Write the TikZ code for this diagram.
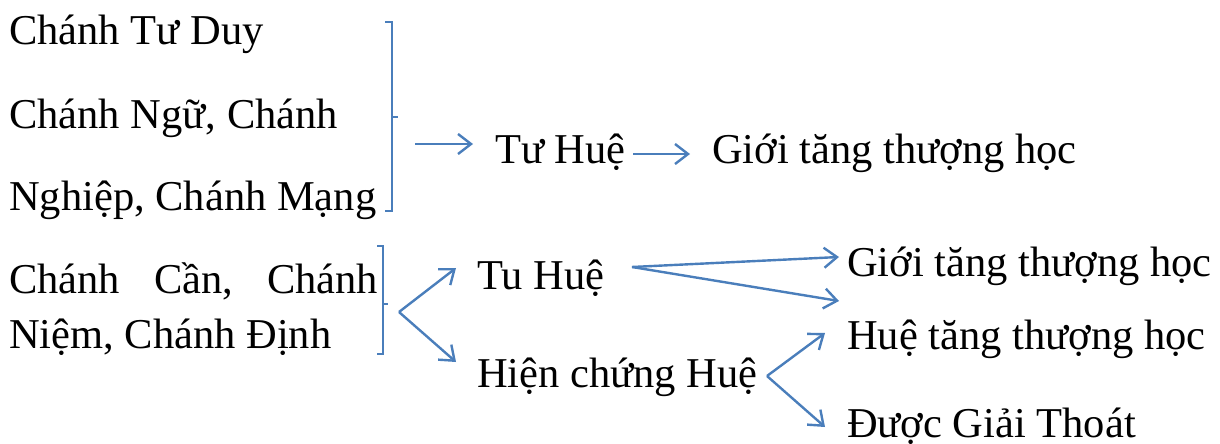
\documentclass[tikz,border=0pt]{standalone}
\usepackage{fontspec}
\setmainfont{Liberation Serif}
\usetikzlibrary{arrows.meta}
\definecolor{wordblue}{HTML}{4A7EBB}
\tikzset{
  txt/.style={anchor=base west, inner sep=0pt, font=\fontsize{42.5}{50}\selectfont},
  brk/.style={draw=wordblue, line width=1.6pt},
  arr/.style={draw=wordblue, line width=2.4pt, -{Straight Barb[length=13pt,width=20pt,line width=2.4pt]}},
}
\begin{document}
\begin{tikzpicture}[x=1pt,y=-1pt]
\useasboundingbox (0,0) rectangle (1220,444);
% left texts
\node[txt] (l1) at (9,45) {Chánh Tư Duy};
\node[txt] (l2) at (9,128) {Chánh Ngữ, Chánh};
\node[txt] (l3) at (9,210) {Nghiệp, Chánh Mạng};
\node[txt] (l4) at (9,293) {\makebox[369pt][s]{Chánh\hfill Cần,\hfill Chánh}};
\node[txt] (l5) at (9,348) {Niệm, Chánh Định};
% middle/right texts
\node[txt] (tuhue1) at (495,163) {Tư Huệ};
\node[txt] (gioi1) at (712,163) {Giới tăng thượng học};
\node[txt] (tuhue2) at (477,289) {Tu Huệ};
\node[txt] (hien) at (477,387) {Hiện chứng Huệ};
\node[txt] (gioi2) at (847,276) {Giới tăng thượng học};
\node[txt] (hue) at (847,349) {Huệ tăng thượng học};
\node[txt] (duoc) at (847,437) {Được Giải Thoát};
% brackets
\draw[brk] (385,22) -- (392,22) -- (392,211) -- (385,211);
\draw[brk] (392,117) -- (398,117);
\draw[brk] (377,246) -- (383,246) -- (383,354) -- (377,354);
\draw[brk] (383,304) -- (388,304);
% arrow anchor coordinates
\coordinate (a1s) at (415,144);
\coordinate (a1e) at (473,144);
\coordinate (a2s) at (633,154);
\coordinate (a2e) at (690,154);
\coordinate (f1) at (399,312);
\coordinate (f1u) at (456,268);
\coordinate (f1d) at (456,362);
\coordinate (f2) at (632,267);
\coordinate (f2u) at (839,257);
\coordinate (f2d) at (839,301);
\coordinate (f3) at (767,376);
\coordinate (f3u) at (825,333);
\coordinate (f3d) at (825,427);
% arrows
\draw[arr] (a1s) -- (a1e);
\draw[arr] (a2s) -- (a2e);
\draw[arr] (f1) -- (f1u);
\draw[arr] (f1) -- (f1d);
\draw[arr] (f2) -- (f2u);
\draw[arr] (f2) -- (f2d);
\draw[arr] (f3) -- (f3u);
\draw[arr] (f3) -- (f3d);
\end{tikzpicture}
\end{document}
